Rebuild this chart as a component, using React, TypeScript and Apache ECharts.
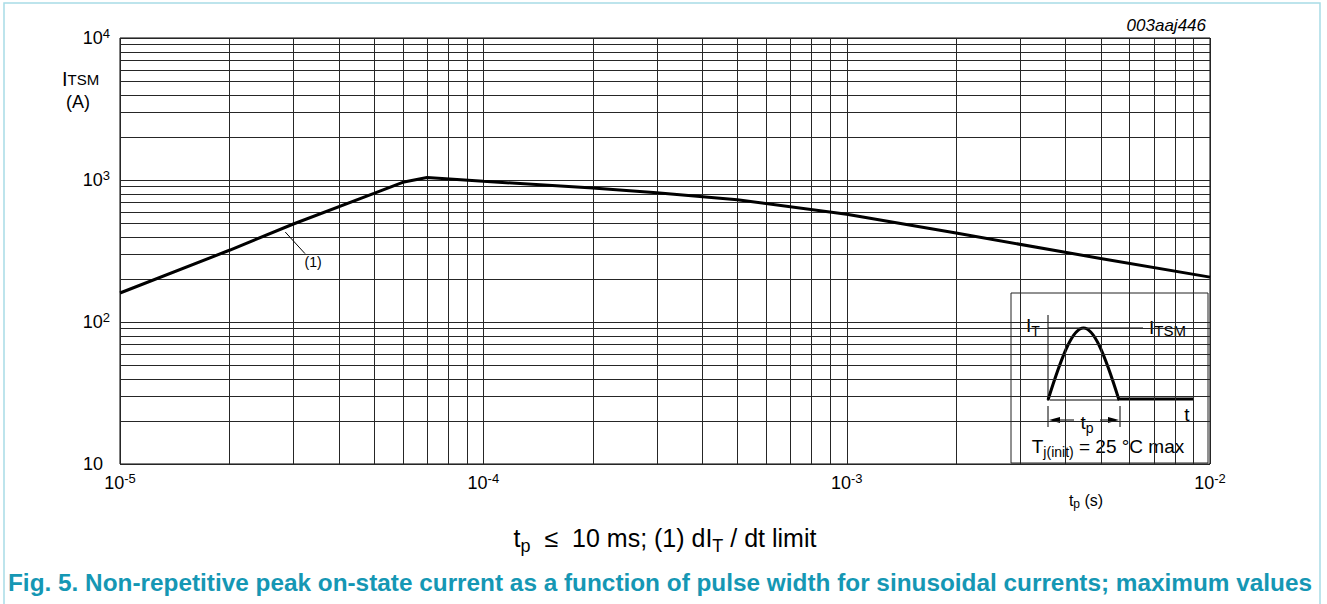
import React, { useEffect, useRef } from "react";
import * as echarts from "echarts";

// Curve: pulse width tp (s) vs ITSM (A)
const pulseWidth = [1e-5, 2e-5, 3e-5, 5e-5, 6e-5, 7e-5, 1e-4, 2e-4, 3e-4, 5e-4, 1e-3, 2e-3, 5e-3, 1e-2];
const peakCurrent = [160, 320, 490, 805, 963, 1040, 980, 877, 814, 727, 573, 423, 280, 207];

// Log grid
const xDecades = [1e-5, 1e-4, 1e-3];
const yDecades = [10, 100, 1000];
const gridMultipliers = [1, 2, 3, 4, 5, 6, 7, 8, 9];
const xMin = 1e-5;
const xMax = 1e-2;
const yMin = 10;
const yMax = 1e4;

// Annotation (1) leader line in data coordinates
const leaderStart = [2.85e-5, 430];
const leaderEnd = [3.23e-5, 303];

const FONT = "'Liberation Sans', Arial, Helvetica, sans-serif";

const xGridValues = xDecades.flatMap((d) => gridMultipliers.map((m) => m * d)).concat([xMax]);
const yGridValues = yDecades.flatMap((d) => gridMultipliers.map((m) => m * d)).concat([yMax]);

const expLabel = (v: number) => {
  const e = Math.round(Math.log10(v));
  if (e === 1) return "{p|10}";
  return `{b|10}{s|${e}}`;
};

const labelRich = {
  b: { fontSize: 18, fontFamily: FONT, color: "#000", lineHeight: 18, verticalAlign: "bottom" },
  p: { fontSize: 18, fontFamily: FONT, color: "#000", lineHeight: 18, padding: [0, 7, 0, 0] },
  s: { fontSize: 13, fontFamily: FONT, color: "#000", lineHeight: 13, padding: [0, 0, 10, 0] },
};

const subRich = (main: number, sub: number, drop: number) => ({
  a: { fontSize: main, fontFamily: FONT, fill: "#000", lineHeight: main, verticalAlign: "top" },
  b: { fontSize: sub, fontFamily: FONT, fill: "#000", lineHeight: sub, padding: [drop, 0, 0, 0], verticalAlign: "top" },
});

export default function App() {
  const ref = useRef<HTMLDivElement>(null);
  useEffect(() => {
    if (!ref.current) return;
    const chart = echarts.init(ref.current, undefined, { renderer: "svg" });
    const gridStroke = "#262626";
    const option: any = {
      animation: false,
      backgroundColor: "#fff",
      grid: {
        left: 120,
        top: 38,
        right: 117,
        bottom: 140,
        show: true,
        borderColor: "#000",
        borderWidth: 1,
        backgroundColor: "transparent",
      },
      xAxis: {
        type: "log",
        logBase: 10,
        min: xMin,
        max: xMax,
        axisLine: { show: false },
        axisTick: { show: false },
        splitLine: { show: false },
        axisLabel: { formatter: expLabel, rich: labelRich, margin: 10 },
      },
      yAxis: {
        type: "log",
        logBase: 10,
        min: yMin,
        max: yMax,
        axisLine: { show: false },
        axisTick: { show: false },
        splitLine: { show: false },
        axisLabel: { formatter: expLabel, rich: labelRich, margin: 10 },
      },
      series: [
        {
          type: "custom",
          silent: true,
          z: 1,
          data: xGridValues.map((v) => [v, yMin]),
          encode: { x: 0, y: 1 },
          renderItem: (_p: any, api: any) => {
            const v = api.value(0);
            const a = api.coord([v, yMin]);
            const b = api.coord([v, yMax]);
            const x = Math.round(a[0]) + 0.5;
            return {
              type: "line",
              shape: { x1: x, y1: a[1], x2: x, y2: b[1] },
              style: { stroke: gridStroke, lineWidth: 1 },
            };
          },
        },
        {
          type: "custom",
          silent: true,
          z: 1,
          data: yGridValues.map((v) => [xMin, v]),
          encode: { x: 0, y: 1 },
          renderItem: (_p: any, api: any) => {
            const v = api.value(1);
            const a = api.coord([xMin, v]);
            const b = api.coord([xMax, v]);
            const y = Math.round(a[1]) + 0.5;
            return {
              type: "line",
              shape: { x1: a[0], y1: y, x2: b[0], y2: y },
              style: { stroke: gridStroke, lineWidth: 1 },
            };
          },
        },
        {
          type: "line",
          z: 3,
          data: pulseWidth.map((t, i) => [t, peakCurrent[i]]),
          symbol: "none",
          lineStyle: { color: "#000", width: 3 },
          markLine: {
            silent: true,
            symbol: "none",
            animation: false,
            lineStyle: { color: "#000", width: 1, type: "solid" },
            label: {
              show: true,
              position: "end",
              formatter: "(1)",
              fontSize: 14,
              fontFamily: FONT,
              color: "#000",
              distance: 12,
            },
            data: [[{ coord: leaderStart }, { coord: leaderEnd }]],
          },
        },
      ],
      graphic: [
        // light frame
        {
          type: "rect",
          silent: true,
          shape: { x: 4, y: 3, width: 1316, height: 620 },
          style: { fill: "none", stroke: "#a8dce6", lineWidth: 1.5 },
        },
        {
          type: "text",
          x: 1206,
          y: 25,
          style: { text: "003aaj446", fontSize: 17, fontStyle: "italic", fontFamily: FONT, fill: "#000", align: "right", verticalAlign: "middle" },
        },
        // y axis name
        {
          type: "text",
          x: 62,
          y: 69,
          style: { text: "{a|I}{b|TSM}", rich: subRich(20, 15, 3) },
        },
        {
          type: "text",
          x: 78,
          y: 102,
          style: { text: "(A)", fontSize: 18, fontFamily: FONT, fill: "#000", align: "center", verticalAlign: "middle" },
        },
        // x axis name
        {
          type: "text",
          x: 1086,
          y: 500,
          style: {
            text: "{a|t}{b|p}{a| (s)}",
            align: "center",
            verticalAlign: "middle",
            rich: subRich(16, 12, 6),
          },
        },
        // condition line
        {
          type: "text",
          x: 665,
          y: 538,
          style: {
            text: "{a|t}{b|p}{a|  ≤  10 ms; (1) dI}{b|T}{a| / dt limit}",
            align: "center",
            verticalAlign: "middle",
            rich: subRich(25, 18, 11),
          },
        },
        // caption
        {
          type: "text",
          x: 8,
          y: 582,
          style: {
            text: "Fig. 5. Non-repetitive peak on-state current as a function of pulse width for sinusoidal currents; maximum values",
            fontSize: 24.35,
            fontWeight: "bold",
            fontFamily: FONT,
            fill: "#1597b4",
            align: "left",
            verticalAlign: "middle",
          },
        },
        // inset diagram
        {
          type: "group",
          z: 10,
          children: [
            {
              type: "rect",
              shape: { x: 1011, y: 293, width: 197, height: 170 },
              style: { fill: "#fff", stroke: "#222", lineWidth: 1 },
            },
            { type: "line", shape: { x1: 1048, y1: 315, x2: 1048, y2: 401 }, style: { stroke: "#000", lineWidth: 1 } },
            { type: "line", shape: { x1: 1048, y1: 328, x2: 1143, y2: 328 }, style: { stroke: "#000", lineWidth: 1 } },
            { type: "line", shape: { x1: 1050, y1: 400, x2: 1119, y2: 400 }, style: { stroke: "#000", lineWidth: 1 } },
            {
              type: "bezierCurve",
              shape: { x1: 1048, y1: 400, cpx1: 1078, cpy1: 304, cpx2: 1089, cpy2: 304, x2: 1119, y2: 400 },
              style: { stroke: "#000", lineWidth: 3, fill: "none" },
            },
            { type: "line", shape: { x1: 1118, y1: 399, x2: 1194, y2: 399 }, style: { stroke: "#000", lineWidth: 3 } },
            { type: "line", shape: { x1: 1048, y1: 406, x2: 1048, y2: 427 }, style: { stroke: "#000", lineWidth: 1 } },
            { type: "line", shape: { x1: 1120, y1: 406, x2: 1120, y2: 427 }, style: { stroke: "#000", lineWidth: 1 } },
            { type: "line", shape: { x1: 1056, y1: 420, x2: 1074, y2: 420 }, style: { stroke: "#000", lineWidth: 1 } },
            { type: "polygon", shape: { points: [[1049, 420], [1060, 417], [1060, 423]] }, style: { fill: "#000" } },
            { type: "line", shape: { x1: 1100, y1: 420, x2: 1112, y2: 420 }, style: { stroke: "#000", lineWidth: 1 } },
            { type: "polygon", shape: { points: [[1119, 420], [1108, 417], [1108, 423]] }, style: { fill: "#000" } },
            {
              type: "text",
              x: 1026,
              y: 316,
              style: { text: "{a|I}{b|T}", rich: subRich(19, 14, 8) },
            },
            {
              type: "text",
              x: 1149,
              y: 318,
              style: { text: "{a|I}{b|TSM}", rich: subRich(19, 15, 5) },
            },
            {
              type: "text",
              x: 1187,
              y: 414,
              style: { text: "t", fontSize: 19, fontFamily: FONT, fill: "#000", align: "center", verticalAlign: "middle" },
            },
            {
              type: "text",
              x: 1087,
              y: 422,
              style: { text: "{a|t}{b|p}", align: "center", verticalAlign: "middle", rich: subRich(19, 14, 8) },
            },
            {
              type: "text",
              x: 1108,
              y: 446,
              style: {
                text: "{a|T}{b|j(init)}{a| = 25 °C max}",
                align: "center",
                verticalAlign: "middle",
                rich: subRich(19, 14, 8),
              },
            },
          ],
        },
      ],
    };
    chart.setOption(option);
    return () => chart.dispose();
  }, []);
  return (
    <div
      ref={ref}
      style={{ position: "absolute", left: 0, top: 0, width: "1327px", height: "604px", background: "#fff" }}
    />
  );
}
